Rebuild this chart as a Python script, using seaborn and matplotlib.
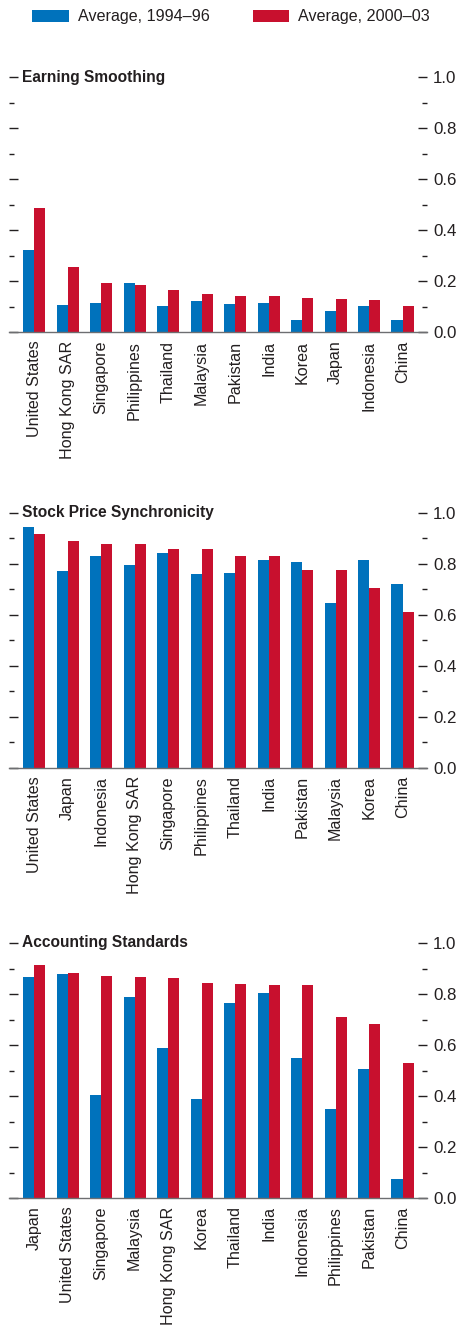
import numpy as np
import pandas as pd
import matplotlib
matplotlib.use('Agg')
import matplotlib.pyplot as plt
from matplotlib import font_manager
from matplotlib.patches import Patch
from matplotlib.ticker import MultipleLocator, FormatStrFormatter
import seaborn as sns

# ---------------------------------------------------
# Data
# ---------------------------------------------------
periods = ['Average, 1994\u201396', 'Average, 2000\u201303']

earning_countries = ['United States', 'Hong Kong SAR', 'Singapore', 'Philippines', 'Thailand',
                     'Malaysia', 'Pakistan', 'India', 'Korea', 'Japan', 'Indonesia', 'China']
earning_9496 = [0.324, 0.108, 0.115, 0.194, 0.104, 0.123, 0.112, 0.115, 0.049, 0.084, 0.104, 0.049]
earning_0003 = [0.486, 0.257, 0.194, 0.186, 0.167, 0.151, 0.143, 0.143, 0.135, 0.131, 0.127, 0.104]

sync_countries = ['United States', 'Japan', 'Indonesia', 'Hong Kong SAR', 'Singapore', 'Philippines',
                  'Thailand', 'India', 'Pakistan', 'Malaysia', 'Korea', 'China']
sync_9496 = [0.944, 0.771, 0.830, 0.795, 0.842, 0.759, 0.763, 0.814, 0.807, 0.646, 0.814, 0.720]
sync_0003 = [0.916, 0.889, 0.877, 0.877, 0.858, 0.858, 0.830, 0.830, 0.775, 0.775, 0.705, 0.610]

acct_countries = ['Japan', 'United States', 'Singapore', 'Malaysia', 'Hong Kong SAR', 'Korea',
                  'Thailand', 'India', 'Indonesia', 'Philippines', 'Pakistan', 'China']
acct_9496 = [0.866, 0.877, 0.403, 0.787, 0.587, 0.388, 0.764, 0.803, 0.548, 0.349, 0.505, 0.075]
acct_0003 = [0.913, 0.881, 0.869, 0.866, 0.862, 0.842, 0.838, 0.834, 0.834, 0.709, 0.681, 0.530]

panels = [
    ('Earning Smoothing', earning_countries, earning_9496, earning_0003),
    ('Stock Price Synchronicity', sync_countries, sync_9496, sync_0003),
    ('Accounting Standards', acct_countries, acct_9496, acct_0003),
]

BLUE = '#0072bc'
RED = '#c8102e'
TEXT = '#231f20'

# the original uses a condensed sans; take a narrow face if one is installed
installed = {f.name for f in font_manager.fontManager.ttflist}
if 'Liberation Sans Narrow' in installed:
    FONT, SCALE = ['Liberation Sans Narrow', 'DejaVu Sans'], 1.0
else:
    FONT, SCALE = ['Liberation Sans', 'DejaVu Sans'], 0.83

sns.set_style('white')
plt.rcParams['font.family'] = FONT
plt.rcParams['text.color'] = TEXT
plt.rcParams['xtick.color'] = TEXT
plt.rcParams['ytick.color'] = TEXT

LABEL_SIZE = 14 * SCALE
TITLE_SIZE = 13.5 * SCALE


def long_frame(countries, a, b):
    return pd.DataFrame({
        'country': countries * 2,
        'period': [periods[0]] * len(countries) + [periods[1]] * len(countries),
        'value': list(a) + list(b),
    })


fig = plt.figure(figsize=(4.71, 13.30), dpi=100)

# axes rectangles in figure fraction (left, bottom, width, height)
left, width, height = 9 / 471, 418 / 471, 255 / 1330
bottoms = [(1330 - 332.3) / 1330, (1330 - 767.7) / 1330, (1330 - 1198) / 1330]

for (title, countries, a, b), bottom in zip(panels, bottoms):
    ax = fig.add_axes([left, bottom, width, height])
    df = long_frame(countries, a, b)
    sns.barplot(data=df, x='country', y='value', hue='period', order=countries,
                hue_order=periods, palette=[BLUE, RED], width=0.66, gap=0,
                saturation=1, linewidth=0, legend=False, ax=ax)
    ax.set_xlim(-0.75, 11.73)
    ax.set_ylim(0, 1)
    ax.set_xlabel('')
    ax.set_ylabel('')

    for s in ['left', 'right', 'top']:
        ax.spines[s].set_visible(False)
    ax.spines['bottom'].set_color('#6d6e71')
    ax.spines['bottom'].set_linewidth(1.0)

    ax.yaxis.set_major_locator(MultipleLocator(0.2))
    ax.yaxis.set_minor_locator(MultipleLocator(0.1))
    ax.yaxis.set_major_formatter(FormatStrFormatter('%.1f'))
    ax.tick_params(axis='y', which='both', left=True, right=True, labelleft=False,
                   labelright=True, direction='in', width=1.0, colors=TEXT)
    ax.tick_params(axis='y', which='major', length=6.5, pad=4.5, labelsize=LABEL_SIZE * 1.05)
    ax.tick_params(axis='y', which='minor', length=3.6)
    ax.tick_params(axis='x', length=0, pad=6, labelsize=LABEL_SIZE)
    plt.setp(ax.get_xticklabels(), rotation=90)

    ax.text(13 / 418, 1.0, title, transform=ax.transAxes, va='center', ha='left',
            fontsize=TITLE_SIZE, fontweight='bold', color=TEXT, family=FONT)

handles = [Patch(facecolor=BLUE, edgecolor='none'), Patch(facecolor=RED, edgecolor='none')]
fig.legend(handles, periods, loc='center left', bbox_to_anchor=(32 / 471, 1 - 17 / 1330),
           ncol=2, frameon=False, fontsize=LABEL_SIZE, borderpad=0, borderaxespad=0,
           handlelength=1.9 / SCALE, handleheight=0.62 / SCALE, handletextpad=0.46 / SCALE,
           columnspacing=2.2 / SCALE)

fig.savefig('out.png', dpi=100)
plt.close(fig)
